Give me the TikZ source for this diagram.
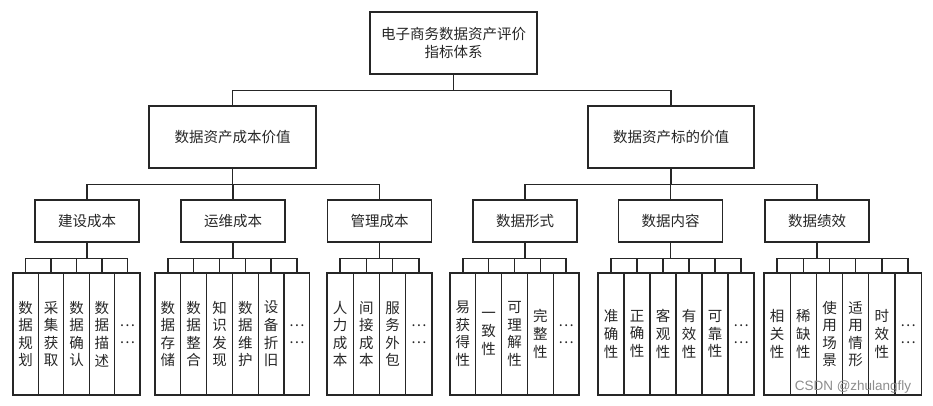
\documentclass[tikz,border=0pt]{standalone}
\usepackage{fontspec}
\setmainfont{Noto Sans CJK SC}
\newfontfamily\markfont{Liberation Sans}
\usepackage{tikz}

\begin{document}
\begin{tikzpicture}[x=1pt, y=-1pt,
		every node/.style={font=\fontsize{14.5}{17.6}\selectfont, text=black!85},
		box/.style={rectangle, draw=black!85, line width=1.3pt, inner sep=0pt, align=center},
		leaf/.style={box, minimum width=25.8pt, minimum height=122pt},
		line/.style={draw=black!85, line width=1.3pt}]
				\useasboundingbox (0, 0) rectangle (933, 405);

				% 箱を置く
				\node[box, minimum width=167pt, minimum height=62pt] (top) at (453.5, 43) {电子商务数据资产评价\\指标体系};
				\node[box, minimum width=167pt, minimum height=62pt] (cost) at (232.5, 137) {数据资产成本价值};
				\node[box, minimum width=166pt, minimum height=62pt] (value) at (671, 137) {数据资产标的价值};

				\node[box, minimum width=104pt, minimum height=42pt] (build) at (87, 221) {建设成本};
				\node[box, minimum width=104pt, minimum height=42pt] (oper) at (233, 221) {运维成本};
				\node[box, minimum width=104pt, minimum height=42pt] (manage) at (379.5, 221) {管理成本};
				\node[box, minimum width=104pt, minimum height=42pt] (form) at (525, 221) {数据形式};
				\node[box, minimum width=104pt, minimum height=42pt] (content) at (670.5, 221) {数据内容};
				\node[box, minimum width=104pt, minimum height=42pt] (perf) at (817, 221) {数据绩效};

				% 線を引く
				\draw[line] (top.south) -- ++(0, 16) -| (cost.north);
				\draw[line] (top.south) -- ++(0, 16) -| (value.north);
				\draw[line] (cost.south) -- ++(0, 16) -| (build.north);
				\draw[line] (cost.south) -- ++(0, 16) -| (oper.north);
				\draw[line] (cost.south) -- ++(0, 16) -| (manage.north);
				\draw[line] (value.south) -- ++(0, 16) -| (form.north);
				\draw[line] (value.south) -- ++(0, 16) -| (content.north);
				\draw[line] (value.south) -- ++(0, 16) -| (perf.north);

				% 指標を並べる
				\foreach \t [count=\i] in {{数\\据\\规\\划}, {采\\集\\获\\取}, {数\\据\\确\\认}, {数\\据\\描\\述}, {…\\…}} {
					\node[leaf, minimum width=25.4pt] (b\i) at ({13+(\i-0.5)*25.4}, 334) {\t};
					\draw[line] (build.south) -- ++(0, 16) -| (b\i.north);
				}
				\foreach \t [count=\i] in {{数\\据\\存\\储}, {数\\据\\整\\合}, {知\\识\\发\\现}, {数\\据\\维\\护}, {设\\备\\折\\旧}, {…\\…}} {
					\node[leaf] (o\i) at ({155+(\i-0.5)*25.8}, 334) {\t};
					\draw[line] (oper.south) -- ++(0, 16) -| (o\i.north);
				}
				\foreach \t [count=\i] in {{人\\力\\成\\本}, {间\\接\\成\\本}, {服\\务\\外\\包}, {…\\…}} {
					\node[leaf, minimum width=26.25pt] (m\i) at ({327+(\i-0.5)*26.25}, 334) {\t};
					\draw[line] (manage.south) -- ++(0, 16) -| (m\i.north);
				}
				\foreach \t [count=\i] in {{易\\获\\得\\性}, {一\\致\\性}, {可\\理\\解\\性}, {完\\整\\性}, {…\\…}} {
					\node[leaf] (f\i) at ({450+(\i-0.5)*25.8}, 334) {\t};
					\draw[line] (form.south) -- ++(0, 16) -| (f\i.north);
				}
				\foreach \t [count=\i] in {{准\\确\\性}, {正\\确\\性}, {客\\观\\性}, {有\\效\\性}, {可\\靠\\性}, {…\\…}} {
					\node[leaf, minimum width=26pt] (c\i) at ({598+(\i-0.5)*26}, 334) {\t};
					\draw[line] (content.south) -- ++(0, 16) -| (c\i.north);
				}
				\foreach \t [count=\i] in {{相\\关\\性}, {稀\\缺\\性}, {使\\用\\场\\景}, {适\\用\\情\\形}, {时\\效\\性}, {…\\…}} {
					\node[leaf, minimum width=26.2pt] (p\i) at ({764+(\i-0.5)*26.2}, 334) {\t};
					\draw[line] (perf.south) -- ++(0, 16) -| (p\i.north);
				}

				% 透かし
				\node[font=\markfont\fontsize{13.5}{15}\selectfont, text=black!45] (mark) at (853, 387) {CSDN @zhulangfly};

			\end{tikzpicture}
\end{document}
